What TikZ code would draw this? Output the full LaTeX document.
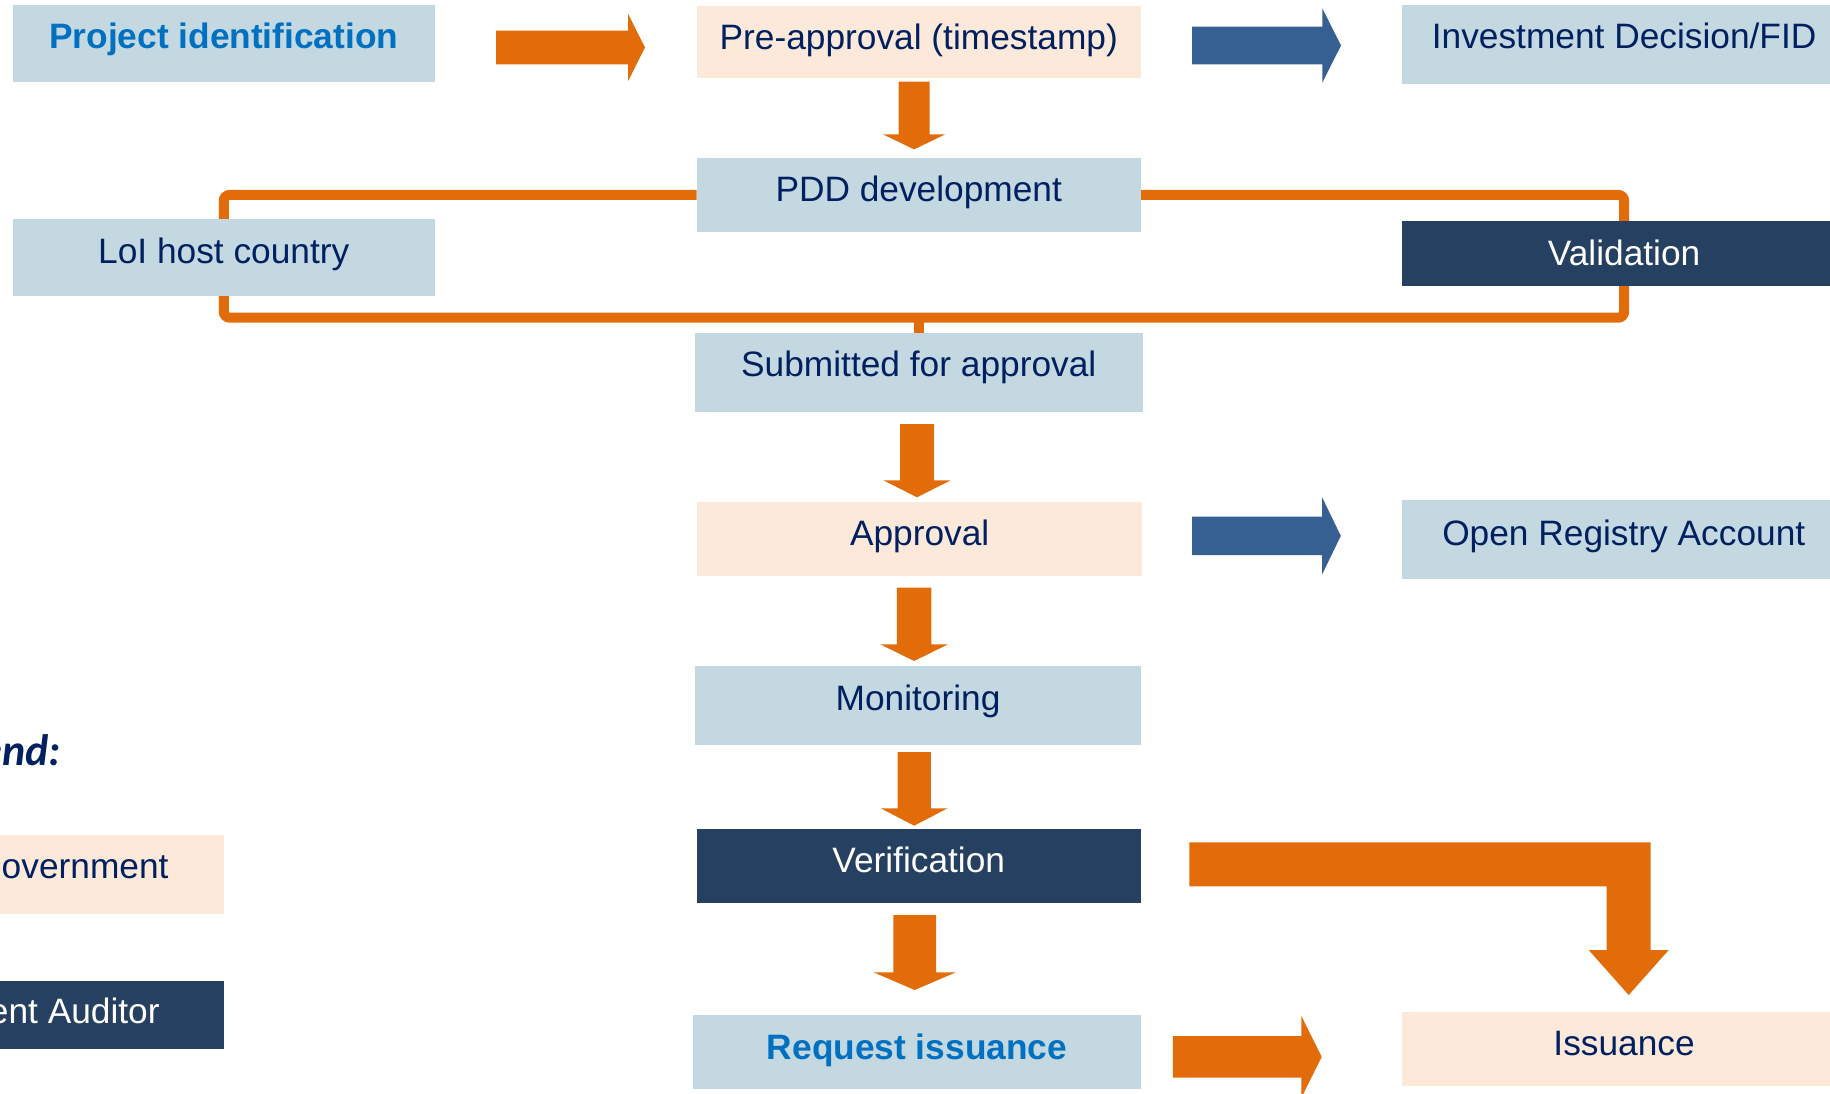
\documentclass[tikz,border=0pt]{standalone}
\usepackage{fontspec}
\setmainfont{Liberation Sans}
\newfontfamily\legendfont{Carlito}
\usetikzlibrary{calc,backgrounds}
\definecolor{boxblue}{HTML}{C4D8E1}
\definecolor{peach}{HTML}{FDE9DA}
\definecolor{navybox}{HTML}{254061}
\definecolor{orangeA}{HTML}{E36C0A}
\definecolor{bluearrow}{HTML}{366092}
\definecolor{textnavy}{HTML}{002060}
\definecolor{linkblue}{HTML}{0070C0}
\tikzset{
  bx/.style n args={3}{inner sep=0pt, outer sep=0pt, minimum width=#1pt, text height=#2pt, text depth=#3pt,
    font=\fontsize{35.3}{40}\selectfont, text=textnavy},
  lightbox/.style={fill=boxblue},
  govbox/.style={fill=peach},
  audbox/.style={fill=navybox, text=white},
  boldlink/.style={font=\fontsize{35.3}{40}\selectfont\bfseries, text=linkblue},
  bracket/.style={draw=orangeA, line width=10pt, rounded corners=6pt},
  blockright/.style args={#1/#2/#3}{to path={let \p1=(\tikztostart), \p2=(\tikztotarget) in
    (\x1,\y1+#1pt) -- (\x2-#3pt,\y1+#1pt) -- (\x2-#3pt,\y1+#2pt) -- (\x2,\y1) -- (\x2-#3pt,\y1-#2pt) -- (\x2-#3pt,\y1-#1pt) -- (\x1,\y1-#1pt) -- cycle}},
  blockdown/.style args={#1/#2/#3}{to path={let \p1=(\tikztostart), \p2=(\tikztotarget) in
    (\x1-#1pt,\y1) -- (\x1+#1pt,\y1) -- (\x1+#1pt,\y2+#3pt) -- (\x1+#2pt,\y2+#3pt) -- (\x1,\y2) -- (\x1-#2pt,\y2+#3pt) -- (\x1-#1pt,\y2+#3pt) -- cycle}},
  blockbend/.style args={#1/#2/#3}{to path={let \p1=(\tikztostart), \p2=(\tikztotarget) in
    (\x1,\y1+#1pt) -- (\x2+#1pt,\y1+#1pt) -- (\x2+#1pt,\y2+#3pt) -- (\x2+#2pt,\y2+#3pt) -- (\x2,\y2) -- (\x2-#2pt,\y2+#3pt) -- (\x2-#1pt,\y2+#3pt) -- (\x2-#1pt,\y1-#1pt) -- (\x1,\y1-#1pt) -- cycle}},
}
\begin{document}
\begin{tikzpicture}[x=1pt,y=-1pt]
\useasboundingbox (0,0) rectangle (1830,1094);
% boxes
\node[bx={421.9}{43.5}{33.2}, lightbox, boldlink] (proj) at (223.75,43.35) {Project identification};
\node[bx={444.1}{44}{27.7}, govbox] (pre) at (918.75,41.85) {Pre-approval (timestamp)};
\node[bx={443.8}{43.3}{35.4}, lightbox] (inv) at (1624.1,44.35) {Investment Decision/FID};
\node[bx={444.1}{43}{30.7}, lightbox] (pdd) at (918.75,194.85) {PDD development};
\node[bx={421.9}{44.3}{32.4}, lightbox] (lol) at (223.75,257.35) {LoI host country};
\node[bx={443.8}{44}{20.7}, audbox] (val) at (1624.1,253.35) {Validation};
\node[bx={447.5}{42.7}{35.7}, lightbox] (sub) at (918.75,372.5) {Submitted for approval};
\node[bx={445.5}{43.7}{30}, govbox] (app) at (919.65,538.85) {Approval};
\node[bx={444.5}{45}{33.7}, lightbox] (reg) at (1623.75,539.35) {Open Registry Account};
\node[bx={446}{44}{35}, lightbox] (mon) at (918,705.5) {Monitoring};
\node[bx={444.1}{43.7}{30}, audbox] (ver) at (918.75,865.85) {Verification};
\node[bx={447.5}{44.3}{29.4}, lightbox, boldlink] (req) at (917,1051.85) {Request issuance};
\node[bx={443.8}{43}{30.7}, govbox] (iss) at (1624.1,1048.85) {Issuance};
% legend
\node[inner sep=0pt, anchor=base east, font=\legendfont\fontsize{44}{50}\selectfont\bfseries\itshape, text=textnavy] (legend) at (61,765) {Legend:};
\node[bx={305.2}{43.3}{35.4}, govbox] (gov) at (71.4,874.35) {Government};
\node[bx={446.6}{42.3}{25.4}, audbox] (aud) at (0.7,1014.85) {Independent Auditor};
% bracket behind boxes
\coordinate (brk) at (919,317.7);
\begin{pgfonlayer}{background}
\draw[bracket] (pdd.west) -| (lol.center) |- (brk) -| (val.center) |- (pdd.east);
\draw[draw=orangeA, line width=10pt] (brk) -- (brk |- sub.north);
\end{pgfonlayer}
% block arrows
\fill[orangeA] ([shift={(61.3,4.15)}]proj.east) [blockright={16.8/33.8/17}] to ([shift={(-51.7,5.85)}]pre.west);
\fill[bluearrow] ([shift={(51.4,3.65)}]pre.east) [blockright={18.8/37.2/18.7}] to ([shift={(-61.2,1.15)}]inv.west);
\fill[orangeA] ([shift={(-4.65,4)}]pre.south) [blockdown={15.5/31.2/15.1}] to ([shift={(-4.65,-8.6)}]pdd.north);
\fill[orangeA] ([shift={(-1.75,12.3)}]sub.south) [blockdown={17/33.7/17}] to ([shift={(-2.65,-4.7)}]app.north);
\fill[orangeA] ([shift={(-5.55,12)}]app.south) [blockdown={17.2/33.9/16.7}] to ([shift={(-3.9,-5)}]mon.north);
\fill[bluearrow] ([shift={(49.6,-3)}]app.east) [blockright={19.15/38.35/18.6}] to ([shift={(-60.7,-3.5)}]reg.west);
\fill[orangeA] ([shift={(-3.85,7)}]mon.south) [blockdown={16.65/33.35/17.4}] to ([shift={(-4.6,-3.3)}]ver.north);
\fill[orangeA] ([shift={(-4.05,12.3)}]ver.south) [blockdown={21.3/41.15/17.7}] to ([shift={(-2.3,-25)}]req.north);
\fill[orangeA] ([shift={(32.2,5)}]req.east) [blockright={20.85/41/20.4}] to ([shift={(-80.5,8)}]iss.west);
\fill[orangeA] ([shift={(48.5,-1.55)}]ver.east) [blockbend={22/40/45}] to ([shift={(4.6,-17)}]iss.north);
\end{tikzpicture}
\end{document}
